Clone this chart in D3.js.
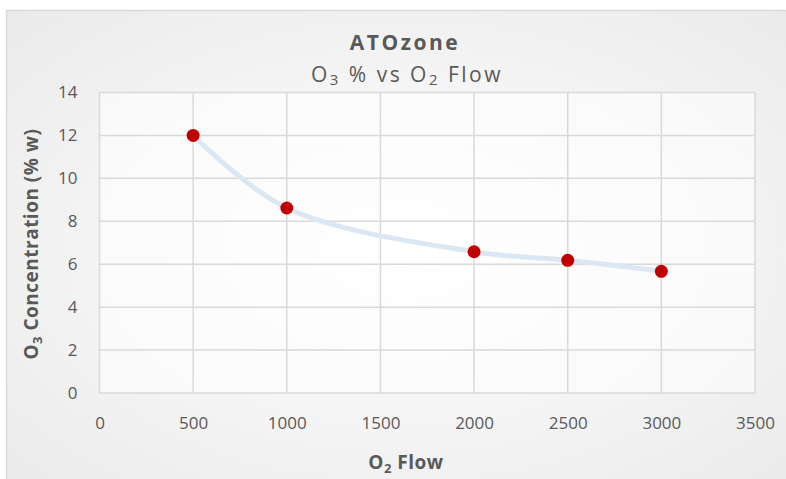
<!DOCTYPE html>
<html>
<head>
<meta charset="utf-8">
<script src="https://cdn.jsdelivr.net/npm/d3@7"></script>
<style>
body { margin: 0; background: #fff; }
svg text { font-family: "Open Sans", "Noto Sans", sans-serif; }
</style>
</head>
<body>
<svg id="chart" width="786" height="479"></svg>
<script>
// data
const flow = [500, 1000, 2000, 2500, 3000];
const concentration = [12, 8.62, 6.58, 6.18, 5.67];
const xTicks = [0, 500, 1000, 1500, 2000, 2500, 3000, 3500];
const yTicks = [0, 2, 4, 6, 8, 10, 12, 14];

const plotLeft = 99.5;
const plotRight = 755;
const plotTop = 92.5;
const plotBottom = 393;
const gridColor = "#d9d9d9";
const labelColor = "#595959";

const svg = d3.select("#chart");

const defs = svg.append("defs");
const grad = defs.append("radialGradient")
    .attr("id","bg")
    .attr("cx","50%").attr("cy","50%").attr("r","75%");
grad.append("stop").attr("offset","0%").attr("stop-color","#ffffff");
grad.append("stop").attr("offset","100%").attr("stop-color","#e9e9e9");

// chart area
svg.append("rect")
    .attr("x",6.5)
    .attr("y",10.5)
    .attr("width",790)
    .attr("height",480)
    .attr("fill","url(#bg)")
    .attr("stroke","#d9d9d9")
    .attr("stroke-width",1.5);

const x = d3.scaleLinear().domain([0,3500]).range([plotLeft,plotRight]);
const y = d3.scaleLinear().domain([0,14]).range([plotBottom,plotTop]);

// plot area
svg.append("rect")
    .attr("x",plotLeft)
    .attr("y",plotTop)
    .attr("width",plotRight-plotLeft)
    .attr("height",plotBottom-plotTop)
    .attr("fill","#ffffff")
    .attr("opacity",0.6);

// gridlines
svg.append("g")
    .selectAll("line.h")
    .data(yTicks)
    .join("line")
    .attr("x1",plotLeft).attr("x2",plotRight)
    .attr("y1",d => y(d)).attr("y2",d => y(d))
    .attr("stroke",gridColor)
    .attr("stroke-width",1.5);

svg.append("g")
    .selectAll("line.v")
    .data(xTicks)
    .join("line")
    .attr("y1",plotTop).attr("y2",plotBottom)
    .attr("x1",d => x(d)).attr("x2",d => x(d))
    .attr("stroke",gridColor)
    .attr("stroke-width",1.5);

// axes (labels only, Excel style)
const xAxis = svg.append("g")
    .attr("transform",`translate(0,${plotBottom})`)
    .call(d3.axisBottom(x).tickValues(xTicks).tickSize(0).tickPadding(24).tickFormat(d3.format("d")));
const yAxis = svg.append("g")
    .attr("transform",`translate(${plotLeft},0)`)
    .call(d3.axisLeft(y).tickValues(yTicks).tickSize(0).tickPadding(22).tickFormat(d3.format("d")));

[xAxis,yAxis].forEach(a =>
{
    a.select(".domain").remove();
    a.selectAll("text")
        .attr("fill",labelColor)
        .attr("font-size",17)
        .attr("font-family","'Open Sans', sans-serif");
});

// smoothed series line
const line = d3.line()
    .x(d => x(d[0]))
    .y(d => y(d[1]))
    .curve(d3.curveCatmullRom.alpha(0.5));

const pts = flow.map((f,i) => [f,concentration[i]]);

svg.append("path")
    .datum(pts)
    .attr("d",line)
    .attr("fill","none")
    .attr("stroke","#dce7f4")
    .attr("stroke-width",5)
    .attr("stroke-linecap","round");

svg.append("g")
    .selectAll("circle")
    .data(pts)
    .join("circle")
    .attr("cx",d => x(d[0]))
    .attr("cy",d => y(d[1]))
    .attr("r",6.5)
    .attr("fill","#c00000");

// titles
const title = svg.append("text")
    .attr("x",405)
    .attr("y",50)
    .attr("text-anchor","middle")
    .attr("font-size",21)
    .attr("font-weight","bold")
    .attr("letter-spacing",2.5)
    .attr("fill",labelColor)
    .text("ATOzone");

const sub = svg.append("text")
    .attr("x",407)
    .attr("y",82)
    .attr("text-anchor","middle")
    .attr("font-size",21)
    .attr("letter-spacing",2.5)
    .attr("fill",labelColor);
sub.append("tspan").text("O");
sub.append("tspan").attr("font-size",15).attr("dy",3).text("3");
sub.append("tspan").attr("dy",-3).text(" % vs O");
sub.append("tspan").attr("font-size",15).attr("dy",3).text("2");
sub.append("tspan").attr("dy",-3).text(" Flow");

const xTitle = svg.append("text")
    .attr("x",406)
    .attr("y",469)
    .attr("text-anchor","middle")
    .attr("font-size",19)
    .attr("font-weight","bold")
    .attr("letter-spacing",0.5)
    .attr("fill",labelColor);
xTitle.append("tspan").text("O");
xTitle.append("tspan").attr("font-size",13).attr("dy",4).text("2");
xTitle.append("tspan").attr("dy",-4).text(" Flow");

const yTitle = svg.append("text")
    .attr("transform","translate(38,244) rotate(-90)")
    .attr("text-anchor","middle")
    .attr("font-size",19)
    .attr("font-weight","bold")
    .attr("letter-spacing",0.5)
    .attr("fill",labelColor);
yTitle.append("tspan").text("O");
yTitle.append("tspan").attr("font-size",13).attr("dy",4).text("3");
yTitle.append("tspan").attr("dy",-4).text(" Concentration  (% w)");
</script>
</body>
</html>
